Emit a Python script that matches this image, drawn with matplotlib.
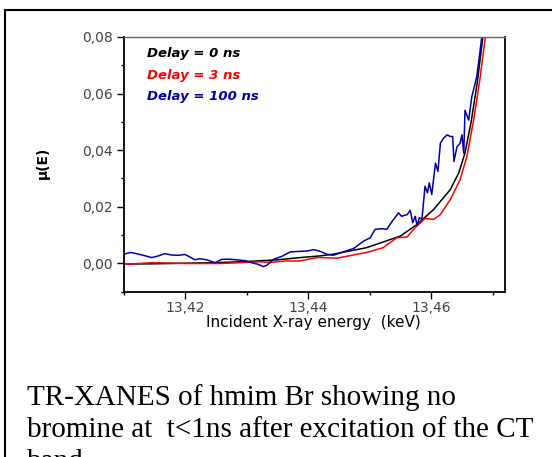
import numpy as np
import matplotlib
matplotlib.use("Agg")
import matplotlib.pyplot as plt
from matplotlib.patches import Rectangle
from matplotlib.ticker import MultipleLocator, FuncFormatter

# Delay = 0 ns (smooth edge)
e_0ns = [13.410, 13.415, 13.420, 13.425, 13.430, 13.435, 13.4387, 13.442, 13.4441,
         13.4495, 13.455, 13.4577, 13.4604, 13.4631, 13.4645, 13.4655, 13.4665,
         13.4675, 13.4684, 13.4690]
mu_0ns = [-0.0003, -0.0002, 0.0000, 0.0002, 0.0006, 0.0012, 0.0020, 0.0026, 0.0032,
          0.0055, 0.0096, 0.0137, 0.0190, 0.0260, 0.0320, 0.0390, 0.0500,
          0.0640, 0.0800, 0.0900]

# Delay = 3 ns
e_3ns = [13.4101, 13.4148, 13.4203, 13.4257, 13.4322, 13.4338, 13.4365, 13.4387,
         13.4414, 13.4420, 13.4447, 13.4495, 13.4522, 13.4544, 13.4561, 13.4574,
         13.4590, 13.4604, 13.4615, 13.4631, 13.4647, 13.4658, 13.4669, 13.4679,
         13.4688, 13.4692]
mu_3ns = [-0.0004, 0.0002, -0.0001, -0.0001, 0.0005, 0.0003, 0.0008, 0.0008,
          0.0020, 0.0020, 0.0018, 0.0038, 0.0055, 0.0090, 0.0093, 0.0126,
          0.0158, 0.0155, 0.0172, 0.0225, 0.0295, 0.0377, 0.0506, 0.0647,
          0.0800, 0.0870]

# Delay = 100 ns (noisy)
e_100ns = [13.4101, 13.4111, 13.4121, 13.4132, 13.4146, 13.4157, 13.4167, 13.4178,
           13.4189, 13.4200, 13.4208, 13.4216, 13.4224, 13.4235, 13.4249, 13.4260,
           13.4273, 13.4284, 13.4298, 13.4308, 13.4319, 13.4327, 13.4333, 13.4344,
           13.4357, 13.4371, 13.4387, 13.4398, 13.4409, 13.4420, 13.4430, 13.4441,
           13.4457, 13.4474, 13.4490, 13.4501, 13.4509, 13.4520, 13.4528, 13.4533,
           13.4539, 13.4547, 13.4552, 13.4561, 13.4566, 13.4570, 13.4574, 13.4577,
           13.4581, 13.4585, 13.4590, 13.4594, 13.4597, 13.4601, 13.4607, 13.4611,
           13.4615, 13.4620, 13.4626, 13.4631, 13.4635, 13.4637, 13.4642, 13.4647,
           13.4650, 13.4653, 13.4655, 13.4661, 13.4666, 13.4670, 13.4674, 13.4679,
           13.4682, 13.4686]
mu_100ns = [0.0032, 0.0038, 0.0034, 0.0028, 0.0020, 0.0026, 0.0034, 0.0029,
            0.0028, 0.0031, 0.0022, 0.0012, 0.0016, 0.0012, 0.0002, 0.0014,
            0.0014, 0.0012, 0.0009, 0.0002, -0.0004, -0.0012, -0.0007, 0.0014,
            0.0024, 0.0040, 0.0042, 0.0043, 0.0048, 0.0042, 0.0032, 0.0028,
            0.0040, 0.0052, 0.0078, 0.0090, 0.0120, 0.0122, 0.0120, 0.0137,
            0.0155, 0.0178, 0.0166, 0.0172, 0.0187, 0.0143, 0.0166, 0.0134,
            0.0161, 0.0155, 0.0272, 0.0249, 0.0284, 0.0243, 0.0354, 0.0325,
            0.0424, 0.0442, 0.0454, 0.0448, 0.0448, 0.0360, 0.0412, 0.0424,
            0.0454, 0.0389, 0.0541, 0.0506, 0.0588, 0.0623, 0.0659, 0.0741,
            0.0797, 0.0880]

x_ticks = [13.42, 13.44, 13.46]
y_ticks = [0.00, 0.02, 0.04, 0.06, 0.08]
labels = ["Delay = 0 ns", "Delay = 3 ns", "Delay = 100 ns"]
colors = ["black", "#ff0000", "#0000a8"]
caption = ["TR-XANES of hmim Br showing no",
           "bromine at  t<1ns after excitation of the CT",
           "band."]

W, H = 552, 457
fig = plt.figure(figsize=(W / 100, H / 100), dpi=100)
ax = fig.add_axes([123.5 / W, 1 - 291.5 / H, (505 - 123.5) / W, (291.5 - 37) / H])

ax.plot(e_0ns, mu_0ns, color=colors[0], lw=1.1)
ax.plot(e_3ns, mu_3ns, color=colors[1], lw=1.1)
ax.plot(e_100ns, mu_100ns, color=colors[2], lw=1.1)

ax.set_xlim(13.41, 13.472)
ax.set_ylim(-0.01, 0.08)
ax.set_xticks(x_ticks)
ax.set_yticks(y_ticks)
ax.xaxis.set_minor_locator(MultipleLocator(0.01))
ax.yaxis.set_minor_locator(MultipleLocator(0.01))
ax.xaxis.set_major_formatter(FuncFormatter(lambda v, p: ("%.2f" % v).replace(".", ",")))
ax.yaxis.set_major_formatter(FuncFormatter(lambda v, p: ("%.2f" % v).replace(".", ",")))
ax.tick_params(which="major", direction="out", length=5, width=1, labelsize=10,
               labelcolor="#444444", pad=3)
ax.tick_params(axis="x", which="major", pad=1.5)
ax.tick_params(which="minor", direction="out", length=2.5, width=1)
for s in ["left", "bottom", "right"]:
    ax.spines[s].set_linewidth(1.3)
ax.spines["top"].set_linewidth(1.0)
ax.spines["top"].set_color("#666666")

# legend texts
for i, (lab, c) in enumerate(zip(labels, colors)):
    fig.text(147 / W, 1 - (53.3 + 21.7 * i) / H, lab, color=c, fontsize=9.5,
             fontweight="bold", fontstyle="italic", ha="left", va="center")

fig.text(43 / W, 1 - 163 / H, "\u03bc(E)", rotation=90, fontsize=10, fontweight="bold",
         ha="center", va="center")
fig.text(313 / W, 1 - 323 / H, "Incident X-ray energy  (keV)", fontsize=11,
         ha="center", va="center")

for i, line in enumerate(caption):
    fig.text(27 / W, 1 - (405 + 32 * i) / H, line, fontsize=21,
             family="Liberation Serif", ha="left", va="baseline")

fig.add_artist(Rectangle((5 / W, -0.2), 1.2, 1.2 - 10 / H, transform=fig.transFigure,
                         fill=False, lw=1.5, color="black"))

fig.savefig("out.png", dpi=100)
